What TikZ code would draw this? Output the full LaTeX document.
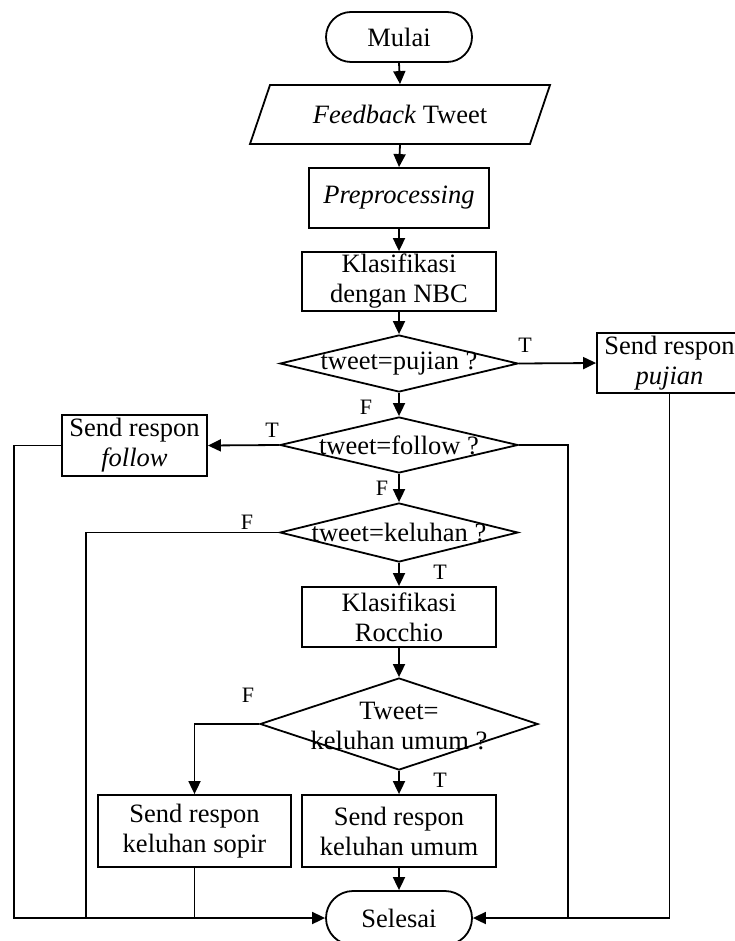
\documentclass[tikz,border=0pt]{standalone}
\usepackage{fontspec}
\setmainfont{Liberation Serif}
\usetikzlibrary{arrows.meta,shapes.geometric}

\begin{document}
\begin{tikzpicture}[x=1pt,y=-1pt,
  line width=1.8pt,
  every node/.style={font=\fontsize{26.5}{30}\selectfont, align=center, inner sep=0pt},
  box/.style 2 args={draw, rectangle, minimum width=#1pt, minimum height=#2pt},
  decision/.style 2 args={draw, diamond, minimum width=#1pt, minimum height=#2pt, inner sep=0pt},
  terminal/.style={draw, rectangle, rounded corners=#1pt, minimum width=146pt, minimum height=2*#1pt},
  flow/.style={-{Triangle[length=13pt,width=12pt]}},
  lbl/.style={font=\fontsize{22}{26}\selectfont}
]
\clip (0,0) rectangle (735,941);

% start and input
\node[terminal=25] (mulai) at (399,37) {Mulai};
\draw (270,85) -- (550,85) -- (530,144) -- (250,144) -- cycle;
\node[minimum width=260pt, minimum height=59pt] (fb) at (400,114.5) {\textit{Feedback} Tweet};

% processing
\node[box={180}{60}] (pre) at (399,198) {\textit{Preprocessing}};
\node[box={194}{59}] (nbc) at (399,281.5) {Klasifikasi\\dengan NBC};

% decisions
\node[decision={238}{57}] (dpuj) at (399,363.5) {};
\node at (399,363.5) {tweet=pujian ?};
\node[decision={238}{56}] (dfol) at (399,445) {};
\node at (399,445) {tweet=follow ?};
\node[decision={238}{59}] (dkel) at (399,532.5) {};
\node at (399,532.5) {tweet=keluhan ?};

\node[box={194}{60}] (roc) at (399,617) {Klasifikasi\\Rocchio};
\node[decision={278}{92}] (dum) at (399,724) {};
\node at (399,726) {Tweet=\\keluhan umum ?};

% responses
\node[box={145}{60}] (pujian) at (669.5,363) {Send respon\\\textit{pujian}};
\node[box={145}{61}] (follow) at (134.5,445.5) {Send respon\\\textit{follow}};
\node[box={193}{72}] (sopir) at (194.5,831) {Send respon\\keluhan sopir};
\node[box={194}{72}] (umum) at (399,831) {Send respon\\keluhan umum};

% end
\node[terminal=27] (selesai) at (399,918) {Selesai};

% junction points on the bottom return line
\coordinate (lfar) at (14,918);
\coordinate (lkel) at (86,918);
\coordinate (lsop) at (194.5,918);
\coordinate (rfol) at (568,918);

% main flow
\draw[flow] (mulai.south) -- (fb.north);
\draw[flow] (fb.south) -- (pre.north);
\draw[flow] (pre.south) -- (nbc.north);
\draw[flow] (nbc.south) -- (dpuj.north);
\draw[flow] (dpuj.east) -- (pujian.west);
\draw[flow] (dpuj.south) -- (dfol.north);
\draw[flow] (dfol.west) -- (follow.east);
\draw[flow] (dfol.south) -- (dkel.north);
\draw[flow] (dkel.south) -- (roc.north);
\draw[flow] (roc.south) -- (dum.north);
\draw[flow] (dum.west) -| (sopir.north);
\draw[flow] (dum.south) -- (umum.north);
\draw[flow] (umum.south) -- (selesai.north);

% returns to Selesai
\draw[flow] (follow.west) -| (lfar) -- (selesai.west);
\draw (dkel.west) -| (lkel);
\draw (sopir.south) -- (lsop);
\draw[flow] (pujian.south) |- (selesai.east);
\draw (dfol.east) -| (rfol);

% branch labels
\node[lbl] at (525,345) {T};
\node[lbl] at (366,407) {F};
\node[lbl] at (272,430) {T};
\node[lbl] at (382,488) {F};
\node[lbl] at (247,522) {F};
\node[lbl] at (440,572) {T};
\node[lbl] at (248,695) {F};
\node[lbl] at (440,780) {T};
\end{tikzpicture}
\end{document}
